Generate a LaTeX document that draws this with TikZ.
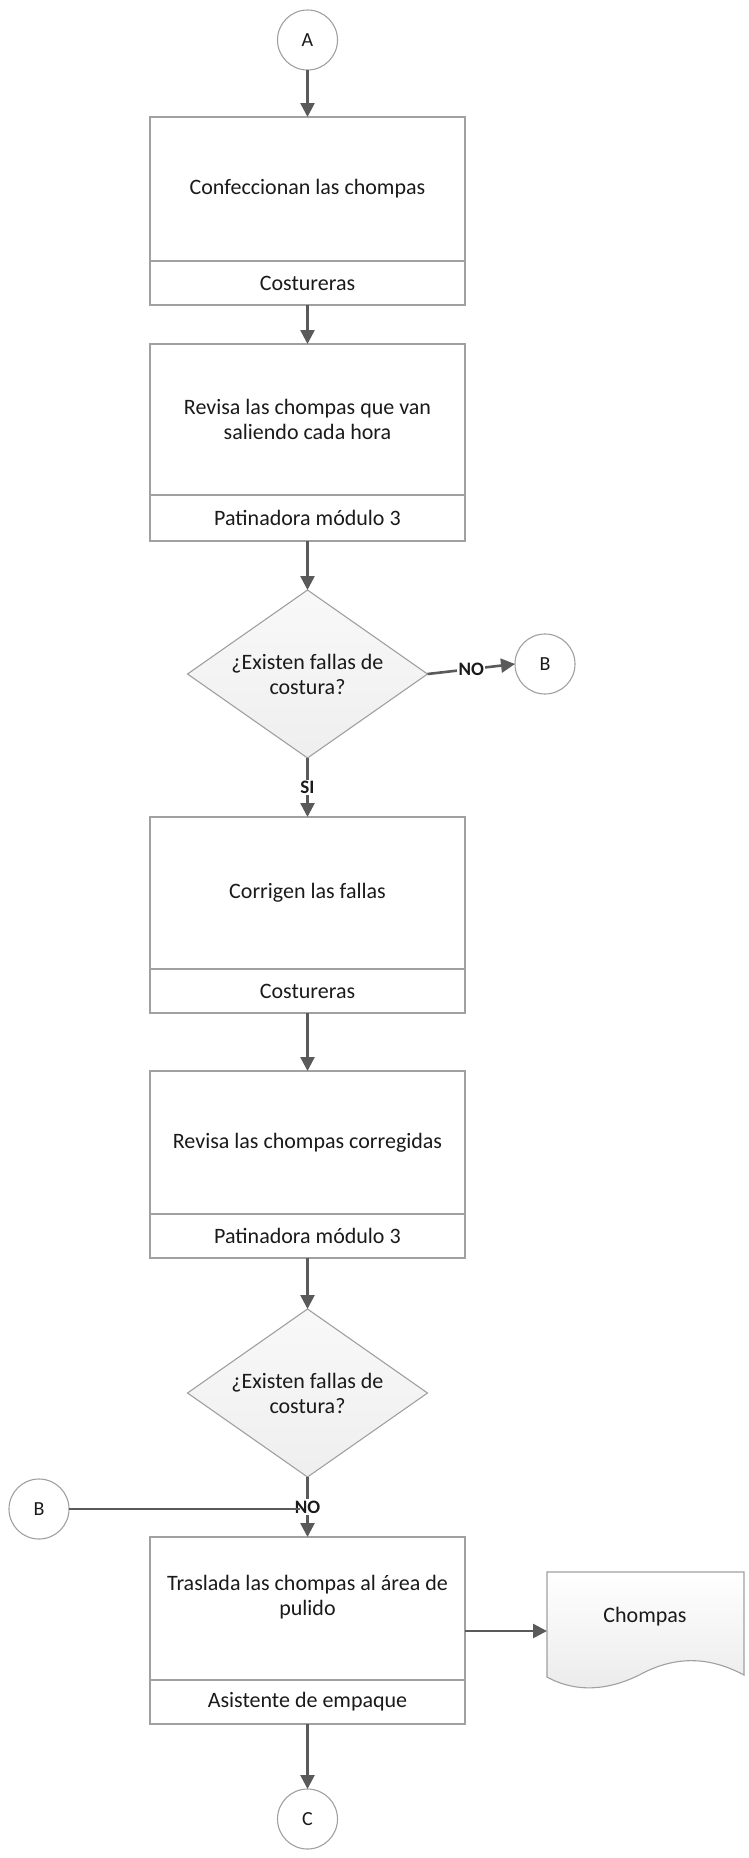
\documentclass[tikz,border=0pt]{standalone}
\usepackage{fontspec}
\setmainfont{Carlito}
\usetikzlibrary{arrows.meta,shapes.geometric}
\definecolor{boxgray}{HTML}{A0A0A0}
\definecolor{arrgray}{HTML}{5A5A5A}
\definecolor{txt}{HTML}{1A1A1A}
\begin{document}
\begin{tikzpicture}[x=1pt,y=1pt,
  every node/.style={outer sep=0pt, text=txt},
  proc/.style={rectangle, draw=boxgray, line width=1.3pt, minimum width=315pt, inner sep=0pt, align=center, font=\fontsize{22}{25}\selectfont},
  conn/.style={circle, draw=boxgray, line width=1.1pt, minimum size=60pt, inner sep=0pt, font=\fontsize{20}{24}\selectfont},
  decis/.style={diamond, draw=boxgray, line width=1.1pt, top color=gray!5, bottom color=gray!13, aspect=1.43, minimum width=240pt, minimum height=168pt, inner sep=0pt, align=center, font=\fontsize{22}{25}\selectfont},
  arr/.style={draw=arrgray, line width=2.6pt, -{Triangle[length=14pt,width=14pt]}},
  lbl/.style={fill=white, inner sep=1.5pt, font=\fontsize{19}{22}\selectfont\bfseries}
]
\useasboundingbox (0,0) rectangle (748,-1858);

% connectors
\node[conn] (A) at (307.5,-40) {A};
\node[conn] (B1) at (545,-664) {B};
\node[conn] (B2) at (39,-1509) {B};
\node[conn] (C) at (307.5,-1819) {C};

% box 1
\node[proc, minimum height=144pt] (b1) at (307.5,-189) {Confeccionan las chompas};
\node[proc, minimum height=44pt] (b1s) at (307.5,-283) {Costureras};
% box 2
\node[proc, minimum height=151pt] (b2) at (307.5,-419.5) {Revisa las chompas que van\\saliendo cada hora};
\node[proc, minimum height=46pt] (b2s) at (307.5,-518) {Patinadora módulo 3};
% decision 1
\node[decis] (d1) at (307.5,-674) {¿Existen fallas de\\costura?};
% box 3
\node[proc, minimum height=152pt] (b3) at (307.5,-893) {Corrigen las fallas};
\node[proc, minimum height=44pt] (b3s) at (307.5,-991) {Costureras};
% box 4
\node[proc, minimum height=143pt] (b4) at (307.5,-1142.5) {Revisa las chompas corregidas};
\node[proc, minimum height=44pt] (b4s) at (307.5,-1236) {Patinadora módulo 3};
% decision 2
\node[decis] (d2) at (307.5,-1393) {¿Existen fallas de\\costura?};
% box 5
\node[proc, minimum height=143pt] (b5) at (307.5,-1608.5) {};
\node[align=center, font=\fontsize{22}{25}\selectfont] (t5) at (307.5,-1597) {Traslada las chompas al área de\\pulido};
\node[proc, minimum height=44pt] (b5s) at (307.5,-1702) {Asistente de empaque};

% document
\path[draw=boxgray, line width=1.1pt, top color=white, bottom color=gray!16]
  (547,-1572) -- (744,-1572) -- (744,-1675)
  .. controls (712,-1658) and (680,-1655) .. (645,-1672)
  .. controls (612,-1690) and (578,-1694) .. (547,-1677) -- cycle;
\node[font=\fontsize{22}{25}\selectfont] (doc) at (645,-1617) {Chompas};
\coordinate (docin) at (547,-1631);

% arrows
\draw[arr] (A.south) -- (b1.north);
\draw[arr] (b1s.south) -- (b2.north);
\draw[arr] (b2s.south) -- (d1.north);
\draw[arr] (d1.south) -- node[lbl] (si) {SI} (b3.north);
\draw[arr] (d1.east) -- node[lbl] (no1) {NO} (B1.west);
\draw[arr] (b3s.south) -- (b4.north);
\draw[arr] (b4s.south) -- (d2.north);
\draw[arr] (d2.south) -- node[lbl] (no2) {NO} (b5.north);
\coordinate (j) at (300,-1509);
\draw[draw=arrgray, line width=2.4pt] (B2.east) -- (j);
\draw[arr] (b5.east |- docin) -- (docin);
\draw[arr] (b5s.south) -- (C.north);
\end{tikzpicture}
\end{document}
